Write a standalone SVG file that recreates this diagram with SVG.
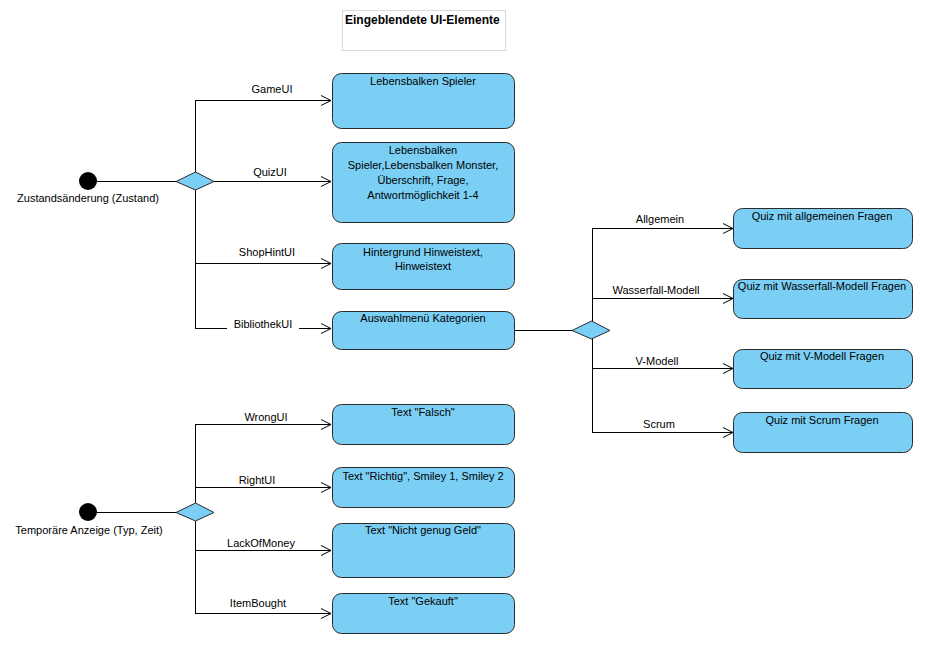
<svg xmlns="http://www.w3.org/2000/svg" width="931" height="647" viewBox="0 0 931 647">
  <defs>
    <marker id="open" markerUnits="userSpaceOnUse" markerWidth="12" markerHeight="12" refX="11" refY="6" orient="auto">
      <path d="M1,1 L11,6 L1,11" fill="none" stroke="#000" stroke-width="1"/>
    </marker>
    <style>
      text { font-family: "Liberation Sans", Arial, sans-serif; font-size: 11px; fill: #000; }
      .title { font-size: 12px; font-weight: bold; }
      .c { text-anchor: middle; }
      .box { fill: #7bcff4; stroke: #2b2b2b; stroke-width: 1; }
      .dec { fill: #7bcff4; stroke: #2b2b2b; stroke-width: 1; }
      .init { fill: #000; }
      .edge { fill: none; stroke: #000; stroke-width: 1; }
      .arrow { marker-end: url(#open); }
    </style>
  </defs>
  <rect width="931" height="647" fill="#fff"/>

  <!-- heading -->
  <g id="title">
    <rect x="342.5" y="10.5" width="163" height="40" fill="#fff" stroke="#d9d9d9"/>
    <text class="title" x="345" y="24">Eingeblendete UI-Elemente</text>
  </g>

  <!-- connectors -->
  <g id="connectors">
    <!-- state change branch -->
    <line class="edge" x1="97" y1="181.5" x2="176" y2="181.5"/>
    <line class="edge" x1="195.5" y1="100.5" x2="195.5" y2="172"/>
    <line class="edge" x1="195.5" y1="190" x2="195.5" y2="328.5"/>
    <line class="edge arrow" x1="195" y1="100.5" x2="331" y2="100.5"/>
    <line class="edge arrow" x1="214" y1="181.5" x2="331" y2="181.5"/>
    <line class="edge arrow" x1="195" y1="263.5" x2="331" y2="263.5"/>
    <line class="edge arrow" x1="195" y1="328.5" x2="331" y2="328.5"/>
    <!-- category branch -->
    <line class="edge" x1="514" y1="330.5" x2="572" y2="330.5"/>
    <line class="edge" x1="592.5" y1="228.5" x2="592.5" y2="321"/>
    <line class="edge" x1="592.5" y1="339" x2="592.5" y2="432.5"/>
    <line class="edge arrow" x1="592" y1="228.5" x2="733" y2="228.5"/>
    <line class="edge arrow" x1="592" y1="298.5" x2="733" y2="298.5"/>
    <line class="edge arrow" x1="592" y1="368.5" x2="733" y2="368.5"/>
    <line class="edge arrow" x1="592" y1="432.5" x2="733" y2="432.5"/>
    <!-- temporary display branch -->
    <line class="edge" x1="97" y1="512.5" x2="176" y2="512.5"/>
    <line class="edge" x1="195.5" y1="424.5" x2="195.5" y2="503"/>
    <line class="edge" x1="195.5" y1="521" x2="195.5" y2="613.5"/>
    <line class="edge arrow" x1="195" y1="424.5" x2="331" y2="424.5"/>
    <line class="edge arrow" x1="195" y1="487.5" x2="331" y2="487.5"/>
    <line class="edge arrow" x1="195" y1="550.5" x2="331" y2="550.5"/>
    <line class="edge arrow" x1="195" y1="613.5" x2="331" y2="613.5"/>

    <!-- guard labels -->
    <text class="c" x="272" y="93">GameUI</text>
    <text class="c" x="270" y="176">QuizUI</text>
    <text class="c" x="267" y="256">ShopHintUI</text>
    <rect x="227" y="318" width="72" height="13" fill="#fff"/>
    <text class="c" x="263" y="328">BibliothekUI</text>
    <text class="c" x="660" y="223">Allgemein</text>
    <text class="c" x="656" y="294">Wasserfall-Modell</text>
    <text class="c" x="657" y="365">V-Modell</text>
    <text class="c" x="659" y="428">Scrum</text>
    <text class="c" x="266" y="421">WrongUI</text>
    <text class="c" x="257" y="484">RightUI</text>
    <text class="c" x="261" y="547">LackOfMoney</text>
    <text class="c" x="258" y="607">ItemBought</text>
  </g>

  <!-- initial nodes -->
  <g id="start-state">
    <circle class="init" cx="88" cy="181" r="9"/>
    <text class="c" x="88" y="202">Zustandsänderung (Zustand)</text>
  </g>
  <g id="start-temp">
    <circle class="init" cx="88" cy="512" r="9"/>
    <text class="c" x="89" y="534">Temporäre Anzeige (Typ, Zeit)</text>
  </g>

  <!-- decision nodes -->
  <g id="decision-state">
    <polygon class="dec" points="176,181.5 195.5,172 214,181.5 195.5,190"/>
  </g>
  <g id="decision-category">
    <polygon class="dec" points="572,330.5 591.5,321 610,330.5 591.5,339"/>
  </g>
  <g id="decision-temp">
    <polygon class="dec" points="176,512.5 195.5,503 214,512.5 195.5,521"/>
  </g>

  <!-- state UI elements -->
  <g id="game-ui">
    <rect class="box" x="332.5" y="73.5" width="182" height="55" rx="9"/>
    <text class="c" x="423" y="85">Lebensbalken Spieler</text>
  </g>
  <g id="quiz-ui">
    <rect class="box" x="332.5" y="142.5" width="182" height="80" rx="9"/>
    <text class="c" x="423" y="154">Lebensbalken</text>
    <text class="c" x="423" y="169">Spieler,Lebensbalken Monster,</text>
    <text class="c" x="423" y="184">Überschrift, Frage,</text>
    <text class="c" x="423" y="199">Antwortmöglichkeit 1-4</text>
  </g>
  <g id="shop-hint-ui">
    <rect class="box" x="332.5" y="243.5" width="182" height="46" rx="9"/>
    <text class="c" x="423" y="256">Hintergrund Hinweistext,</text>
    <text class="c" x="423" y="270">Hinweistext</text>
  </g>
  <g id="library-ui">
    <rect class="box" x="332.5" y="311.5" width="182" height="38" rx="9"/>
    <text class="c" x="423" y="322">Auswahlmenü Kategorien</text>
  </g>

  <!-- quiz categories -->
  <g id="quiz-general">
    <rect class="box" x="733.5" y="208.5" width="179" height="40" rx="9"/>
    <text class="c" x="822" y="220">Quiz mit allgemeinen Fragen</text>
  </g>
  <g id="quiz-waterfall">
    <rect class="box" x="733.5" y="279.5" width="179" height="39" rx="9"/>
    <text class="c" x="822" y="290">Quiz mit Wasserfall-Modell Fragen</text>
  </g>
  <g id="quiz-vmodel">
    <rect class="box" x="733.5" y="349.5" width="179" height="39" rx="9"/>
    <text class="c" x="822" y="360">Quiz mit V-Modell Fragen</text>
  </g>
  <g id="quiz-scrum">
    <rect class="box" x="733.5" y="412.5" width="179" height="40" rx="9"/>
    <text class="c" x="822" y="424">Quiz mit Scrum Fragen</text>
  </g>

  <!-- temporary displays -->
  <g id="wrong-ui">
    <rect class="box" x="332.5" y="404.5" width="182" height="40" rx="9"/>
    <text class="c" x="423" y="416">Text "Falsch"</text>
  </g>
  <g id="right-ui">
    <rect class="box" x="332.5" y="467.5" width="182" height="40" rx="9"/>
    <text class="c" x="423" y="480">Text "Richtig", Smiley 1, Smiley 2</text>
  </g>
  <g id="lack-of-money">
    <rect class="box" x="332.5" y="523.5" width="182" height="54" rx="9"/>
    <text class="c" x="423" y="534">Text "Nicht genug Geld"</text>
  </g>
  <g id="item-bought">
    <rect class="box" x="332.5" y="593.5" width="182" height="40" rx="9"/>
    <text class="c" x="423" y="605">Text "Gekauft"</text>
  </g>
</svg>
